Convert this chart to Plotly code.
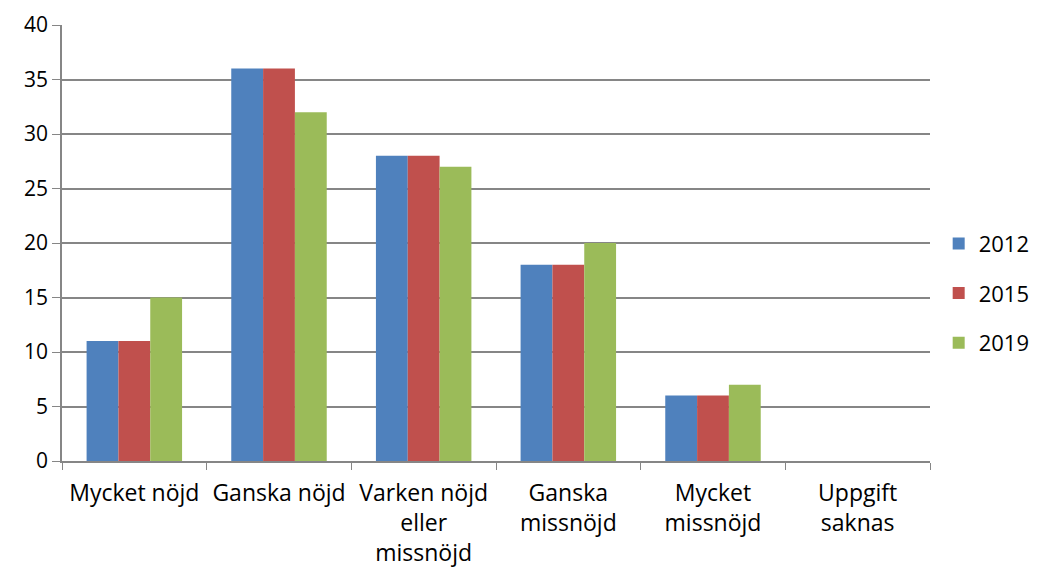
import plotly.graph_objects as go

# categories and values
categories = ["Mycket nöjd", "Ganska nöjd", "Varken nöjd<br>eller<br>missnöjd",
              "Ganska<br>missnöjd", "Mycket<br>missnöjd", "Uppgift<br>saknas"]
v2012 = [11, 36, 28, 18, 6, 0]
v2015 = [11, 36, 28, 18, 6, 0]
v2019 = [15, 32, 27, 20, 7, 0]

series = [("2012", v2012, "#4F81BD"), ("2015", v2015, "#C0504D"), ("2019", v2019, "#9BBB59")]

fig = go.Figure()
for i, (name, vals, col) in enumerate(series):
    fig.add_trace(go.Bar(x=categories, y=vals, name=name, marker_color=col,
                         marker_line_width=0, legendgroup=str(i)))

grid = "#868686"
fig.update_layout(
    width=1049, height=572,
    margin=dict(l=62, r=119, t=25, b=111),
    plot_bgcolor="white", paper_bgcolor="white",
    barmode="group", bargap=0.34, bargroupgap=0,
    font=dict(family="Open Sans", size=21, color="black"),
    legend=dict(x=1.01, y=0.385, xanchor="left", yanchor="middle", borderwidth=0,
                traceorder="grouped", tracegroupgap=18, font=dict(size=22)),
)
fig.update_yaxes(range=[0, 40], dtick=5, showgrid=True, gridcolor=grid, gridwidth=1.5,
                 showline=True, linecolor=grid, linewidth=1.5, automargin=False,
                 ticks="outside", ticklen=8, tickcolor=grid, zeroline=False)
fig.update_xaxes(showline=True, linecolor=grid, linewidth=1.5, automargin=False,
                 ticks="outside", ticklen=7, tickcolor=grid, tickson="boundaries",
                 ticklabelstandoff=11, tickfont=dict(size=23))

# drop the default page margin so the figure sits at the window's corner
fig.write_html("out.html", config={"displayModeBar": False},
               post_script="document.body.style.margin='0';")
